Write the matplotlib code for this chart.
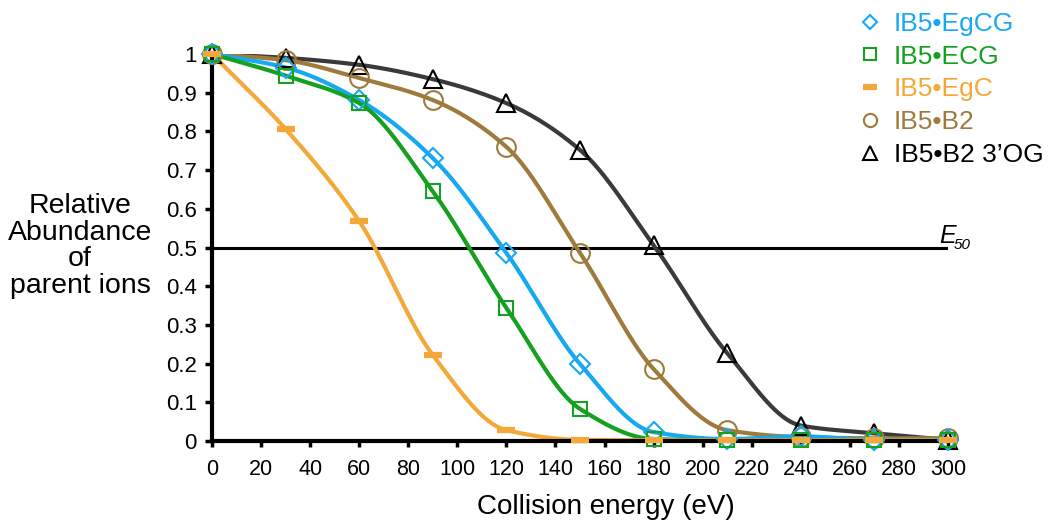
import numpy as np
import matplotlib
matplotlib.use("Agg")
import matplotlib.pyplot as plt
from matplotlib.lines import Line2D

plt.rcParams['font.family'] = ['Liberation Sans', 'DejaVu Sans']

energy = [0, 30, 60, 90, 120, 150, 180, 210, 240, 270, 300]
egcg = [1.0, 0.965, 0.881, 0.731, 0.486, 0.199, 0.023, 0.005, 0.012, 0.003, 0.003]
ecg = [1.0, 0.944, 0.873, 0.645, 0.344, 0.083, 0.005, 0.002, 0.002, 0.002, 0.002]
egc = [1.0, 0.806, 0.568, 0.222, 0.028, 0.003, 0.002, 0.002, 0.002, 0.002, 0.002]
b2 = [1.0, 0.984, 0.938, 0.881, 0.760, 0.486, 0.186, 0.028, 0.010, 0.007, 0.007]
b2og = [1.0, 0.99, 0.972, 0.935, 0.873, 0.752, 0.506, 0.227, 0.040, 0.020, 0.003]

names = ["IB5•EgCG", "IB5•ECG", "IB5•EgC", "IB5•B2", "IB5•B2 3’OG"]
line_colors = ["#16A9F2", "#15A020", "#F5A83A", "#9E7B3C", "#3A3A3A"]
mark_colors = ["#16A9F2", "#15A020", "#F5A83A", "#9E7B3C", "#000000"]
markers = ["D", "s", "_", "o", "^"]
msizes = [10.5, 9.5, 13.5, 13.5, 13]
leg_sizes = [7.5, 8.5, 10, 9.5, 9.5]


def pchip(x, y, xs):
    x = np.asarray(x, float)
    y = np.asarray(y, float)
    h = np.diff(x)
    d = np.diff(y) / h
    n = len(x)
    m = np.zeros(n)
    for k in range(1, n - 1):
        if d[k - 1] * d[k] <= 0:
            m[k] = 0.0
        else:
            w1 = 2 * h[k] + h[k - 1]
            w2 = h[k] + 2 * h[k - 1]
            m[k] = (w1 + w2) / (w1 / d[k - 1] + w2 / d[k])
    m[0] = d[0]
    m[-1] = d[-1]
    idx = np.clip(np.searchsorted(x, xs) - 1, 0, n - 2)
    t = (xs - x[idx]) / h[idx]
    h00 = 2 * t**3 - 3 * t**2 + 1
    h10 = t**3 - 2 * t**2 + t
    h01 = -2 * t**3 + 3 * t**2
    h11 = t**3 - t**2
    return h00 * y[idx] + h10 * h[idx] * m[idx] + h01 * y[idx + 1] + h11 * h[idx] * m[idx + 1]


fig = plt.figure(figsize=(10.48, 5.24), dpi=100)
ax = fig.add_axes([212 / 1048, 83 / 524, 736 / 1048, 387 / 524])

xs = np.linspace(0, 300, 600)
series = [egcg, ecg, egc, b2, b2og]
order = [4, 3, 0, 1, 2]
for i in order:
    ys = pchip(energy, series[i], xs)
    ax.plot(xs, ys, color=line_colors[i], lw=3.0, zorder=2, solid_capstyle='round')
for i in order:
    mew = 4.5 if markers[i] == "_" else 1.5
    ax.plot(energy, series[i], linestyle='none', marker=markers[i], ms=msizes[i],
            mfc='none', mec=mark_colors[i], mew=mew, zorder=3, clip_on=False)

ax.plot([0, 299], [0.5, 0.5], color='black', lw=2.2, zorder=1)
ax.text(296.5, 0.512, "E", fontsize=18, ha='left', va='baseline', fontstyle='italic')
ax.text(302.5, 0.497, "50", fontsize=11, ha='left', va='baseline', fontstyle='italic')

ax.set_xlim(0, 300)
ax.set_ylim(0, 1)
ax.set_xticks(np.arange(0, 301, 20))
ax.set_yticks(np.arange(0, 1.01, 0.1))
ax.set_yticklabels(["0", "0.1", "0.2", "0.3", "0.4", "0.5", "0.6", "0.7", "0.8", "0.9", "1"])
ax.tick_params(axis='x', labelsize=15.5, width=2.5, length=4, direction='out', pad=9)
ax.tick_params(axis='y', labelsize=16, width=2.5, length=5, direction='out', pad=6)
for s in ['top', 'right']:
    ax.spines[s].set_visible(False)
for s in ['left', 'bottom']:
    ax.spines[s].set_linewidth(3)

ax.set_xlabel("Collision energy (eV)", fontsize=20, labelpad=10)
ax.xaxis.label.set_x((606 - 212) / 736)
fig.text(80 / 1048, 1 - 246 / 524, "Relative\nAbundance\nof\nparent ions", fontsize=20.5,
         ha='center', va='center', linespacing=1.03)

handles = []
for i in range(5):
    mew = 4.5 if markers[i] == "_" else 1.5
    handles.append(Line2D([], [], linestyle='none', marker=markers[i],
                          ms=leg_sizes[i], mfc='none', mec=mark_colors[i], mew=mew))
leg = fig.legend(handles, names, loc='upper left', bbox_to_anchor=(858 / 1048, 1 - 12 / 524),
                 frameon=False, fontsize=19, handlelength=0.9, handletextpad=0.45,
                 labelspacing=0.33, borderaxespad=0, borderpad=0)
for t, c in zip(leg.get_texts(), mark_colors):
    t.set_color(c)

fig.savefig("out.png", dpi=100)
